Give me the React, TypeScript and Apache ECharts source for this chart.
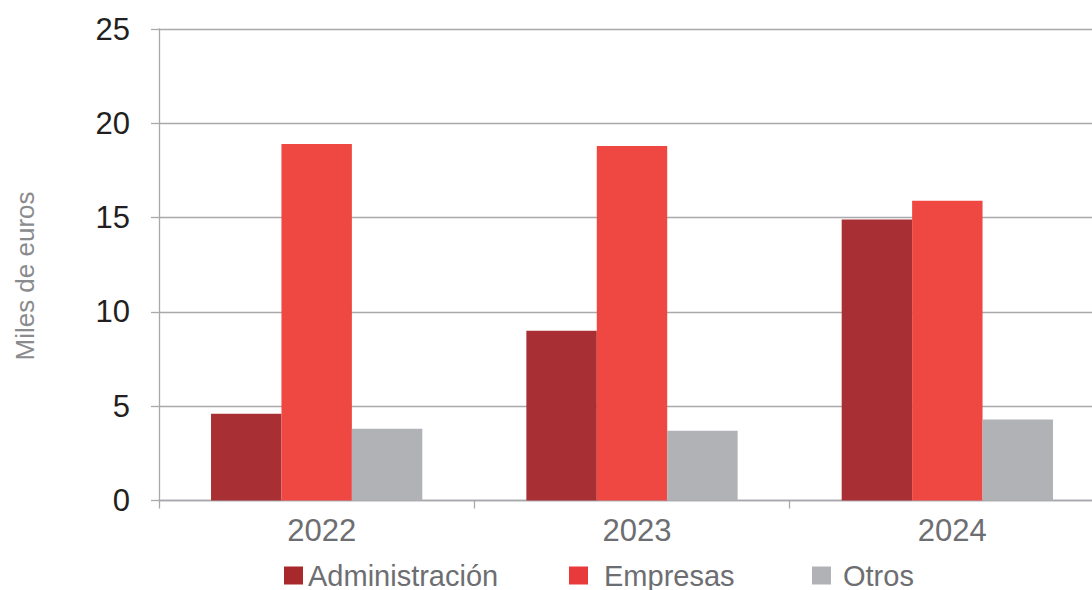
import React, { useEffect, useRef } from "react";
import * as echarts from "echarts";

const categories = ["2022", "2023", "2024"];
const seriesNames = ["Administración", "Empresas", "Otros"];
const administracion = [4.6, 9.0, 14.9];
const empresas = [18.9, 18.8, 15.9];
const otros = [3.8, 3.7, 4.3];
const yTicks = { min: 0, max: 25, interval: 5 };
const yAxisTitle = "Miles de euros";

const barColors = ["#A83034", "#EF4742", "#B1B2B6"];
const legendColors = ["#A8292C", "#E8393B", "#B1B2B6"];
const FONT = "Liberation Sans, Arial, sans-serif";
const gridColor = "#A7A9AC";

export default function App() {
  const ref = useRef<HTMLDivElement>(null);
  useEffect(() => {
    if (!ref.current) return;
    const chart = echarts.init(ref.current, undefined, { renderer: "svg" });
    const values = [administracion, empresas, otros];
    const legendLefts = [284, 569, 812];
    const legendPads = [0, 11, 7];
    chart.setOption({
      animation: false,
      textStyle: { fontFamily: FONT },
      grid: { left: 159, right: 0, top: 29, bottom: 89.5, containLabel: false },
      graphic: [
        {
          type: "text",
          x: 25,
          y: 276,
          rotation: Math.PI / 2,
          style: {
            text: yAxisTitle,
            fontSize: 26,
            fill: "#8A8B8D",
            fontFamily: FONT,
            align: "center",
            verticalAlign: "middle",
          },
        },
      ],
      legend: seriesNames.map((n, i) => ({
        data: [{ name: n, itemStyle: { color: legendColors[i] } }],
        left: legendLefts[i],
        top: 561,
        padding: 0,
        itemWidth: 19,
        itemHeight: 18,
        icon: "rect",
        selectedMode: false,
        textStyle: {
          fontSize: 29,
          color: "#6D6E71",
          fontFamily: FONT,
          padding: [0, 0, 0, legendPads[i]],
        },
      })),
      xAxis: {
        type: "category",
        data: categories,
        axisLine: { lineStyle: { color: gridColor, width: 1.3 } },
        axisTick: { show: true, length: 8, lineStyle: { color: gridColor, width: 1.3 } },
        axisLabel: {
          fontSize: 31,
          color: "#6D6E71",
          margin: 14,
          fontFamily: FONT,
          padding: [0, 0, 0, 10],
        },
      },
      yAxis: {
        type: "value",
        min: yTicks.min,
        max: yTicks.max,
        interval: yTicks.interval,
        axisLine: { show: true, lineStyle: { color: gridColor, width: 1.3 } },
        axisTick: { show: true, length: 8, lineStyle: { color: gridColor, width: 1.3 } },
        axisLabel: { fontSize: 31, color: "#231F20", margin: 29, fontFamily: FONT },
        splitLine: { show: true, lineStyle: { color: gridColor, width: 1.3 } },
      },
      series: seriesNames.map((n, i) => ({
        name: n,
        type: "bar",
        data: values[i],
        barGap: "0%",
        barCategoryGap: "33%",
        itemStyle: { color: barColors[i] },
      })),
    });
    return () => chart.dispose();
  }, []);
  return (
    <div
      style={{ position: "absolute", left: 0, top: 0, width: 1092, height: 590, overflow: "hidden", background: "#fff" }}
    >
      <div ref={ref} style={{ width: 1105, height: 590 }} />
    </div>
  );
}
